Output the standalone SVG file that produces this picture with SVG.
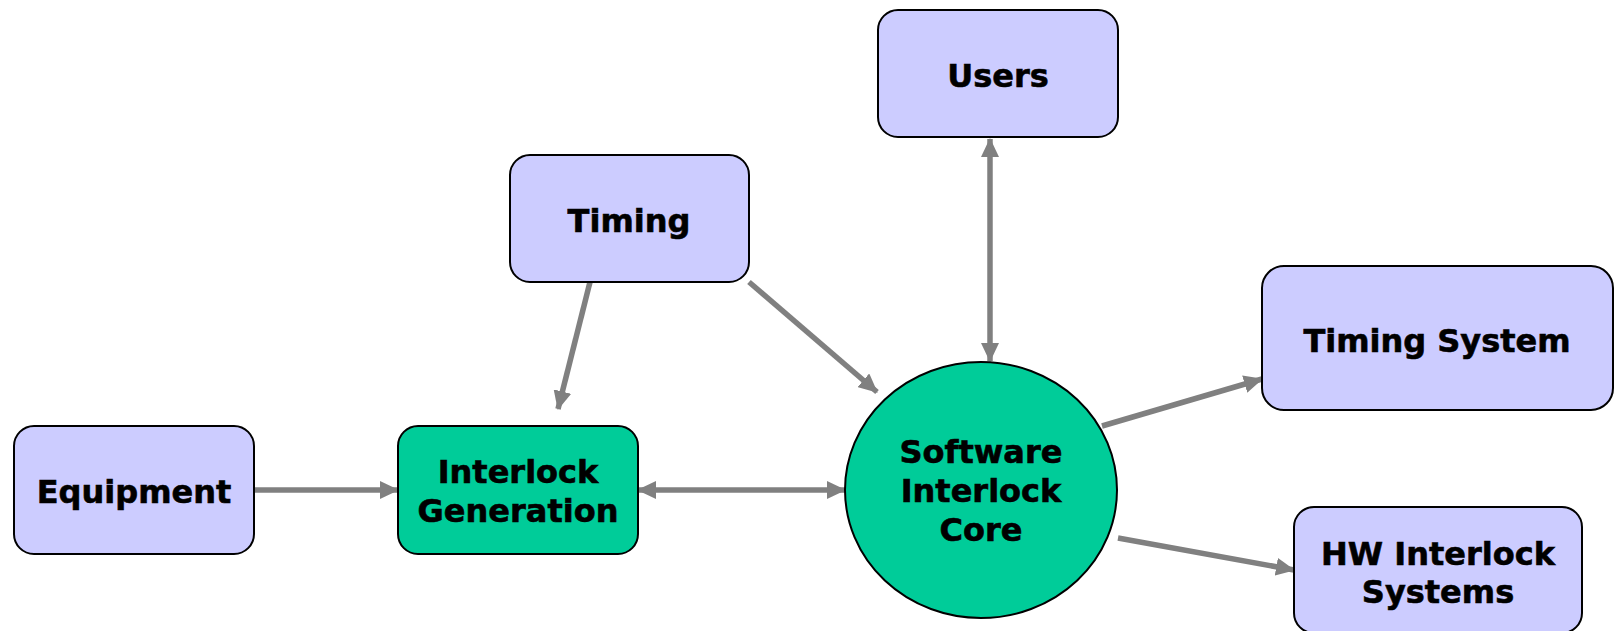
<svg xmlns="http://www.w3.org/2000/svg" width="1618" height="631" viewBox="0 0 1618 631">
<style>
.box{fill:#ccccff;stroke:#000;stroke-width:2}
.green{fill:#00cc99;stroke:#000;stroke-width:2}
.lbl{font-family:"DejaVu Sans",Verdana,sans-serif;font-weight:bold;font-size:32px;fill:#000;text-anchor:middle;stroke:#000;stroke-width:0.6}
.con{stroke:#808080;stroke-width:5.5;fill:none}
</style>
<defs>
<marker id="ah" markerUnits="userSpaceOnUse" markerWidth="20" markerHeight="18" refX="18" refY="9" orient="auto-start-reverse">
<path d="M0,0 L19,9 L0,18 Z" fill="#808080"/>
</marker>
</defs>
<g id="connectors">
<line class="con" x1="254" y1="490" x2="398" y2="490" marker-end="url(#ah)"/>
<line class="con" x1="638" y1="490" x2="845" y2="490" marker-start="url(#ah)" marker-end="url(#ah)"/>
<line class="con" x1="590" y1="282" x2="558" y2="409" marker-end="url(#ah)"/>
<line class="con" x1="749" y1="282" x2="877" y2="392" marker-end="url(#ah)"/>
<line class="con" x1="990" y1="139" x2="990" y2="361" marker-start="url(#ah)" marker-end="url(#ah)"/>
<line class="con" x1="1102" y1="426" x2="1262" y2="379" marker-end="url(#ah)"/>
<line class="con" x1="1118" y1="538" x2="1294" y2="570" marker-end="url(#ah)"/>
</g>
<g id="users">
<rect class="box" x="878" y="10" width="240" height="127" rx="20"/>
<text class="lbl" x="998" y="87">Users</text>
</g>
<g id="timing">
<rect class="box" x="510" y="155" width="239" height="127" rx="20"/>
<text class="lbl" x="629" y="232">Timing</text>
</g>
<g id="equipment">
<rect class="box" x="14" y="426" width="240" height="128" rx="20"/>
<text class="lbl" x="134" y="503">Equipment</text>
</g>
<g id="interlock-generation">
<rect class="green" x="398" y="426" width="240" height="128" rx="20"/>
<text class="lbl" x="518" y="483">Interlock</text>
<text class="lbl" x="518" y="522">Generation</text>
</g>
<g id="core">
<ellipse class="green" cx="981" cy="490" rx="136" ry="128"/>
<text class="lbl" x="981" y="463">Software</text>
<text class="lbl" x="981" y="502">Interlock</text>
<text class="lbl" x="981" y="541">Core</text>
</g>
<g id="timing-system">
<rect class="box" x="1262" y="266" width="351" height="144" rx="22"/>
<text class="lbl" x="1437" y="352">Timing System</text>
</g>
<g id="hw-interlock">
<rect class="box" x="1294" y="507" width="288" height="126" rx="20"/>
<text class="lbl" x="1438" y="565">HW Interlock</text>
<text class="lbl" x="1438" y="603">Systems</text>
</g>
</svg>
